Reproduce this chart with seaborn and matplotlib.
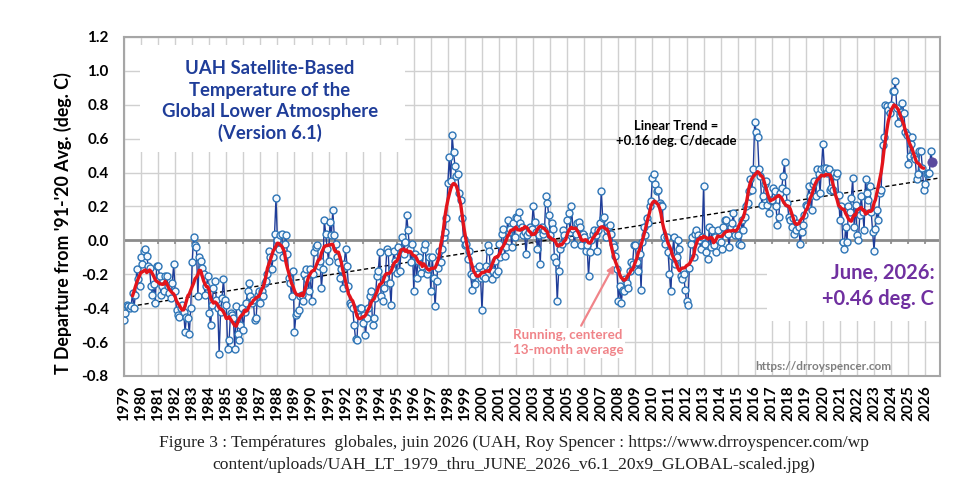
import numpy as np
import pandas as pd
import matplotlib
matplotlib.use("Agg")
import matplotlib.pyplot as plt
from matplotlib.patches import Rectangle
import seaborn as sns

# UAH LT global monthly anomalies (deg C, vs 1991-2020), Jan 1979 .. Jun 2026
t_1979_1988 = [
    -0.47, -0.43, -0.38, -0.39, -0.40, -0.39, -0.31, -0.40, -0.32, -0.17, -0.23, -0.27,
    -0.10, -0.14, -0.06, -0.05, -0.09, -0.15, -0.16, -0.27, -0.32, -0.26, -0.37, -0.15,
    -0.15, -0.21, -0.32, -0.27, -0.30, -0.21, -0.21, -0.27, -0.31, -0.34, -0.25, -0.14,
    -0.30, -0.41, -0.44, -0.45, -0.40, -0.38, -0.42, -0.54, -0.45, -0.46, -0.55, -0.40,
    -0.13, 0.02, -0.03, -0.04, -0.33, -0.10, -0.12, -0.16, -0.20, -0.32, -0.27, -0.21,
    -0.43, -0.50, -0.38, -0.28, -0.24, -0.35, -0.40, -0.67, -0.42, -0.34, -0.23, -0.35,
    -0.38, -0.64, -0.59, -0.43, -0.44, -0.46, -0.64, -0.39, -0.55, -0.59, -0.50, -0.40,
    -0.53, -0.42, -0.37, -0.30, -0.25, -0.33, -0.37, -0.35, -0.47, -0.46, -0.32, -0.30,
    -0.37, -0.30, -0.33, -0.25, -0.24, -0.20, -0.06, -0.10, -0.17, -0.10, 0.04, 0.25,
    0.00, -0.05, 0.03, 0.04, -0.10, -0.02, 0.03, -0.08, -0.22, -0.25, -0.33, -0.18,
]
t_1989_1998 = [
    -0.54, -0.44, -0.43, -0.41, -0.33, -0.32, -0.36, -0.20, -0.17, -0.23, -0.30, -0.17,
    -0.36, -0.20, -0.07, -0.04, -0.03, -0.15, -0.12, -0.28, -0.17, 0.12, 0.04, -0.05,
    -0.12, 0.11, 0.03, 0.18, 0.03, -0.02, -0.10, -0.13, -0.22, -0.17, -0.28, -0.14,
    -0.05, -0.15, -0.27, -0.37, -0.38, -0.40, -0.50, -0.58, -0.59, -0.41, -0.40, -0.40,
    -0.49, -0.44, -0.56, -0.46, -0.40, -0.33, -0.30, -0.50, -0.46, -0.34, -0.21, -0.18,
    -0.07, -0.33, -0.36, -0.28, -0.22, -0.05, -0.07, -0.25, -0.38, -0.17, -0.06, -0.12,
    -0.19, -0.04, -0.18, -0.07, 0.02, -0.08, -0.01, 0.15, 0.06, -0.05, -0.13, -0.02,
    -0.30, -0.08, -0.22, -0.12, -0.10, -0.19, -0.15, -0.05, -0.02, -0.20, -0.17, -0.10,
    -0.30, -0.10, -0.22, -0.39, -0.24, -0.16, -0.06, -0.13, -0.05, 0.02, 0.05, 0.13,
    0.34, 0.49, 0.35, 0.62, 0.52, 0.44, 0.38, 0.39, 0.28, 0.24, 0.13, 0.01,
]
t_1999_2008 = [
    -0.03, -0.02, -0.11, -0.06, -0.20, -0.29, -0.21, -0.26, -0.17, -0.20, -0.15, -0.22,
    -0.41, -0.21, -0.22, -0.15, -0.03, -0.06, -0.17, -0.23, -0.18, -0.12, -0.20, -0.18,
    -0.02, -0.10, 0.04, 0.07, -0.09, -0.04, 0.12, 0.05, 0.07, -0.04, 0.10, 0.02,
    0.14, 0.13, 0.17, 0.10, 0.08, 0.03, 0.05, -0.08, 0.03, 0.05, 0.08, 0.07,
    0.20, 0.11, 0.05, -0.05, 0.03, -0.14, 0.08, 0.04, 0.06, 0.26, 0.22, 0.15,
    0.03, 0.10, 0.07, -0.10, -0.13, -0.36, -0.18, -0.05, -0.02, 0.06, 0.03, 0.00,
    0.12, 0.16, 0.05, 0.20, 0.07, -0.02, 0.04, 0.10, 0.11, 0.08, -0.03, 0.04,
    0.02, -0.06, -0.03, -0.21, -0.07, 0.00, 0.04, 0.06, 0.03, -0.06, 0.06, 0.10,
    0.29, 0.13, 0.14, 0.02, 0.06, 0.08, 0.09, 0.04, -0.02, -0.04, -0.09, -0.17,
    -0.36, -0.27, -0.37, -0.29, -0.30, -0.23, -0.25, -0.28, -0.18, -0.13, -0.14, -0.03,
]
t_2009_2018 = [
    -0.03, -0.13, -0.18, -0.08, -0.29, -0.01, 0.08, 0.03, 0.13, 0.10, 0.20, 0.23,
    0.37, 0.39, 0.33, 0.29, 0.30, 0.22, 0.21, 0.20, 0.02, -0.02, 0.02, -0.07,
    -0.20, -0.30, -0.09, 0.02, -0.14, -0.10, 0.00, -0.05, -0.21, -0.23, -0.20, -0.29,
    -0.36, -0.38, -0.16, -0.02, 0.02, -0.10, 0.04, 0.06, 0.03, 0.00, -0.05, 0.02,
    0.32, -0.02, -0.07, -0.11, 0.08, -0.04, 0.06, -0.03, 0.02, -0.07, 0.06, 0.00,
    -0.01, -0.05, 0.08, 0.12, 0.12, 0.04, -0.04, 0.08, 0.10, 0.16, 0.03, 0.07,
    0.03, -0.02, -0.03, 0.12, 0.06, 0.14, 0.20, 0.22, 0.29, 0.36, 0.30, 0.42,
    0.70, 0.64, 0.61, 0.42, 0.38, 0.21, 0.26, 0.33, 0.35, 0.21, 0.16, 0.24,
    0.24, 0.31, 0.29, 0.20, 0.09, 0.14, 0.28, 0.31, 0.38, 0.46, 0.29, 0.22,
    0.14, 0.12, 0.08, 0.13, 0.04, 0.06, 0.10, 0.08, -0.02, 0.05, 0.09, 0.15,
]
t_2019_2026 = [
    0.21, 0.20, 0.32, 0.26, 0.18, 0.33, 0.35, 0.26, 0.42, 0.39, 0.28, 0.42,
    0.57, 0.43, 0.43, 0.40, 0.42, 0.30, 0.31, 0.30, 0.40, 0.38, 0.40, 0.27,
    0.12, 0.20, -0.01, -0.05, 0.08, -0.01, 0.20, 0.17, 0.25, 0.37, 0.08, 0.21,
    0.03, 0.00, 0.15, 0.26, 0.17, 0.06, 0.36, 0.28, 0.24, 0.32, 0.17, 0.05,
    -0.06, 0.07, 0.18, 0.12, 0.28, 0.30, 0.56, 0.61, 0.80, 0.79, 0.77, 0.75,
    0.80, 0.88, 0.88, 0.94, 0.78, 0.69, 0.74, 0.76, 0.81, 0.75, 0.64, 0.62,
    0.45, 0.50, 0.57, 0.61, 0.50, 0.48, 0.36, 0.39, 0.53, 0.53, 0.43, 0.30,
    0.33, 0.39, 0.40, 0.40, 0.53, 0.46,
]
start_year = 1979
year_ticks = list(range(1979, 2027))
y_ticks = [-0.8, -0.6, -0.4, -0.2, 0.0, 0.2, 0.4, 0.6, 0.8, 1.0, 1.2]

temps = np.array(t_1979_1988 + t_1989_1998 + t_1999_2008 + t_2009_2018 + t_2019_2026)
df = pd.DataFrame({"year": start_year + np.arange(len(temps)) / 12.0, "anom": temps})
df["running13"] = df["anom"].rolling(13, center=True).mean()

sns.set_theme(style="whitegrid")
plt.rcParams["font.family"] = ["Lato", "DejaVu Sans"]
plt.rcParams["font.weight"] = "bold"

navy = "#1f3d99"
edge_blue = "#2e75b6"
red = "#e3141b"
purple = "#7030a0"
salmon = "#f08489"
grid_c = "#d0d0d0"
frame_c = "#a6a6a6"

fig = plt.figure(figsize=(9.74, 4.92), dpi=100)
ax = fig.add_axes([0.1273, 0.2358, 0.8378, 0.689])
x_max = 2026.87
ax.set_xlim(1979, x_max)
ax.set_ylim(-0.8, 1.2)

ax.grid(True, color=grid_c, linewidth=1.0)
ax.set_axisbelow(True)
for s in ax.spines.values():
    s.set_color(frame_c)
    s.set_linewidth(1.5)

# white boxes behind annotation blocks (as in the original Excel chart)
ax.add_patch(Rectangle((0.0196, 0.661), 0.325, 0.315, transform=ax.transAxes,
                       facecolor="white", edgecolor="none", zorder=1))
ax.add_patch(Rectangle((0.788, 0.162), 0.212, 0.23, transform=ax.transAxes,
                       facecolor="white", edgecolor="none", zorder=1))

# zero line with the year tick marks
ax.axhline(0, color="#8c8c8c", linewidth=2, zorder=2)
ax.vlines(year_ticks, -0.022, 0, color="#8c8c8c", linewidth=1.2, zorder=2)

# linear trend (fit over the monthly data, extended across the axis)
sns.regplot(data=df, x="year", y="anom", scatter=False, ci=None, truncate=False,
            ax=ax, line_kws=dict(color="black", linewidth=1.0, linestyle=(0, (3, 2)), zorder=3))

sns.lineplot(data=df, x="year", y="anom", ax=ax, sort=False, errorbar=None,
             color=navy, linewidth=1.0, marker="o", markersize=5.0,
             markerfacecolor="#f4f8fd", markeredgecolor=edge_blue, markeredgewidth=1.0,
             zorder=4)
sns.lineplot(data=df, x="year", y="running13", ax=ax, sort=False, errorbar=None,
             color=red, linewidth=2.4, zorder=5)
sns.scatterplot(data=df.tail(1), x="year", y="anom", ax=ax, color="#5b4a9e",
                s=45, edgecolor="#5b4a9e", zorder=6)

ax.set_xlim(1979, x_max)
ax.set_ylim(-0.8, 1.2)
ax.set_xticks(year_ticks)
ax.set_xticklabels([str(y) for y in year_ticks], rotation=90, fontsize=11,
                   fontweight="bold", color="black")
ax.set_yticks(y_ticks)
ax.set_yticklabels([f"{v:.1f}" for v in y_ticks], fontsize=11, fontweight="bold",
                   color="black")
ax.tick_params(axis="x", length=0, pad=7)
ax.tick_params(axis="y", length=0, pad=11)
ax.set_xlabel("")
ax.set_ylabel("T Departure from '91-'20 Avg. (deg. C)", fontsize=12.8,
              fontweight="bold", color="black")
ax.yaxis.set_label_coords(-0.064, 0.451)

ax.text(0.179, 0.81, "UAH Satellite-Based\nTemperature of the\nGlobal Lower Atmosphere\n(Version 6.1)",
        transform=ax.transAxes, ha="center", va="center", fontsize=13.3,
        fontweight="bold", color=navy, linespacing=1.3, zorder=7)
ax.text(0.677, 0.715, "Linear Trend =\n+0.16 deg. C/decade", transform=ax.transAxes,
        ha="center", va="center", fontsize=9.4, fontweight="bold", color="black",
        linespacing=1.35, zorder=7)
ax.text(0.993, 0.265, "June, 2026:\n+0.46 deg. C", transform=ax.transAxes,
        ha="right", va="center", fontsize=14.5, fontweight="bold", color=purple,
        linespacing=1.35, zorder=7)
ax.text(0.773, 0.028, "https://drroyspencer.com", transform=ax.transAxes,
        ha="left", va="center", fontsize=8.5, fontweight="bold", color="#7f7f7f",
        zorder=7)

ax.annotate("Running, centered\n13-month average", xy=(2007.75, -0.145),
            xytext=(2005.05, -0.605), ha="center", va="center", fontsize=9.6,
            fontweight="bold", color=salmon, linespacing=1.3, zorder=7,
            bbox=dict(facecolor="white", edgecolor="none", pad=1),
            arrowprops=dict(arrowstyle="-|>", color=salmon, lw=1.6,
                            shrinkA=2, shrinkB=0, mutation_scale=10,
                            relpos=(0.6, 1.0)))

cap_font = ["Liberation Serif", "DejaVu Serif"]
fig.text(0.528, 0.100,
         "Figure 3 : Températures  globales, juin 2026 (UAH, Roy Spencer : https://www.drroyspencer.com/wp",
         ha="center", va="center", fontsize=12.6, family=cap_font, fontweight="normal",
         color="#222222")
fig.text(0.528, 0.054,
         "content/uploads/UAH_LT_1979_thru_JUNE_2026_v6.1_20x9_GLOBAL-scaled.jpg)",
         ha="center", va="center", fontsize=12.6, family=cap_font, fontweight="normal",
         color="#222222")

fig.savefig("out.png", dpi=100, facecolor="white")
